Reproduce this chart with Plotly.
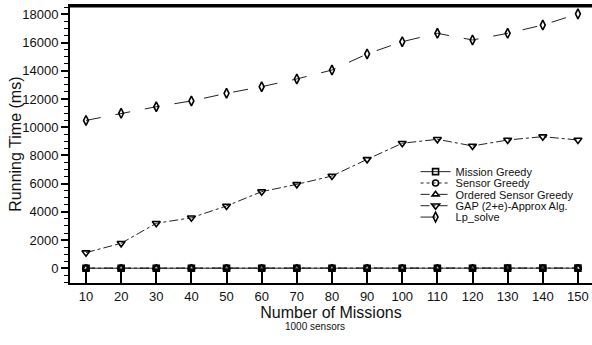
import plotly.graph_objects as go

missions = [10, 20, 30, 40, 50, 60, 70, 80, 90, 100, 110, 120, 130, 140, 150]
mission_greedy = [5, 5, 5, 5, 6, 6, 6, 7, 7, 8, 8, 8, 9, 9, 10]
sensor_greedy = [10, 10, 11, 11, 12, 12, 13, 13, 14, 14, 15, 15, 16, 16, 17]
ordered_sensor_greedy = [12, 12, 13, 13, 14, 14, 15, 15, 16, 16, 17, 17, 18, 18, 19]
gap_approx = [1110, 1770, 3190, 3580, 4420, 5430, 5950, 6540, 7720, 8860, 9140, 8670, 9090, 9330, 9090]
lp_solve = [10480, 10980, 11450, 11860, 12400, 12870, 13420, 14050, 15190, 16060, 16650, 16180, 16650, 17240, 18030]

y_ticks = [0, 2000, 4000, 6000, 8000, 10000, 12000, 14000, 16000, 18000]
y_tick_text = ["0", "2000", "4000", "6000", "8000", "10000", "12000", "14000", "16000", "18000"]

series = [
    ("Mission Greedy", mission_greedy, "solid", "square-open", 6),
    ("Sensor Greedy", sensor_greedy, "dot", "circle-open", 6),
    ("Ordered Sensor Greedy", ordered_sensor_greedy, "dash", "triangle-up-open", 6),
    ("GAP (2+e)-Approx Alg.", gap_approx, "dashdot", "triangle-down-open", 7),
    ("Lp_solve", lp_solve, "longdash", "diamond-tall-open", 7),
]

legend_rows = [0.402, 0.361, 0.320, 0.279, 0.238]

fig = go.Figure()
layout_legends = {}
for i, (name, vals, dash, sym, size) in enumerate(series):
    key = "legend" if i == 0 else f"legend{i+1}"
    fig.add_trace(go.Scatter(
        x=missions, y=vals, name=name, mode="lines+markers", legend=key,
        line=dict(color="#222222", width=1, dash=dash),
        marker=dict(symbol=sym, size=size, color="black", line=dict(width=1.6, color="black")),
    ))
    layout_legends[key] = dict(x=0.662, y=legend_rows[i], xanchor="left", yanchor="middle",
                               font=dict(size=11, color="#111111"),
                               bgcolor="rgba(0,0,0,0)", borderwidth=0)

fig.update_layout(
    width=592, height=345,
    margin=dict(l=70, r=0, t=6, b=62),
    plot_bgcolor="white", paper_bgcolor="white",
    font=dict(family="Liberation Sans, Arial, sans-serif", color="#111111"),
    showlegend=True,
    annotations=[
        dict(text="1000 sensors", x=0.47, y=-0.156, xref="paper", yref="paper",
             showarrow=False, font=dict(size=10), xanchor="center", yanchor="middle"),
        dict(text="Running Time (ms)", x=-0.105, y=0.5, xref="paper", yref="paper",
             showarrow=False, font=dict(size=16), textangle=-90,
             xanchor="center", yanchor="middle"),
    ],
    shapes=[dict(type="line", xref="paper", yref="paper", x0=-0.002, x1=1, y0=1, y1=1,
                 line=dict(color="black", width=3), layer="above")],
    **layout_legends,
)
fig.update_xaxes(
    range=[5.45, 154], tickvals=missions, ticks="inside", ticklen=13, tickwidth=2,
    tickcolor="black", showline=True, linecolor="black", linewidth=2, mirror=True,
    showgrid=False, zeroline=False, tickfont=dict(size=13), automargin=False,
    title=dict(text="Number of Missions", font=dict(size=16), standoff=4),
)
fig.update_yaxes(
    range=[-1042, 18588], tickvals=y_ticks, ticktext=y_tick_text, ticks="outside", ticklen=7,
    tickwidth=1.5, tickcolor="black", showline=True, linecolor="black", linewidth=2,
    showgrid=False, zeroline=False, tickfont=dict(size=13), automargin=False,
    minor=dict(dtick=500, tick0=0, ticks="outside", ticklen=4, tickcolor="black", tickwidth=1),
)

fig.write_html("out.html", config={"displayModeBar": False},
               post_script="document.body.style.margin='0px';")
